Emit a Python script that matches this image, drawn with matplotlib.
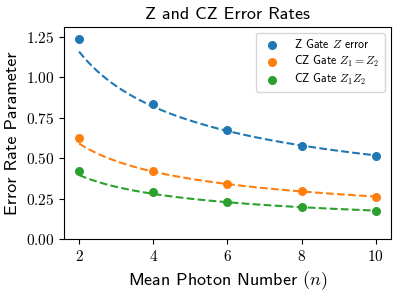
import numpy as np
import matplotlib
matplotlib.use("Agg")
import matplotlib.pyplot as plt
from matplotlib.ticker import FuncFormatter

plt.rcParams['font.family'] = ['cmss10', 'DejaVu Sans']
plt.rcParams['mathtext.fontset'] = 'cm'
plt.rcParams['axes.unicode_minus'] = False

n_vals = [2, 4, 6, 8, 10]
z_error = [1.238, 0.837, 0.674, 0.577, 0.514]
cz_equal = [0.625, 0.421, 0.343, 0.296, 0.263]
cz_product = [0.421, 0.290, 0.232, 0.197, 0.175]
# coefficients a of the dashed fit curves a / sqrt(n)
fit_coef = [1.640, 0.837, 0.562]
labels = [r"Z Gate $Z$ error", r"CZ Gate $Z_1=Z_2$", r"CZ Gate $Z_1Z_2$"]
colors = ["#1f77b4", "#ff7f0e", "#2ca02c"]

fig = plt.figure(figsize=(3.99, 2.93), dpi=100)
ax = fig.add_axes([0.161, 0.183, 0.818, 0.724])

n = np.array(n_vals, dtype=float)
nn = np.linspace(min(n_vals), max(n_vals), 200)
for ys, a, lab, c in zip([z_error, cz_equal, cz_product], fit_coef, labels, colors):
    ax.scatter(n, ys, color=c, s=30, label=lab, zorder=3)
    ax.plot(nn, a / np.sqrt(nn), '--', color=c, lw=1.5)

ax.set_xlim(1.6, 10.4)
ax.set_ylim(0, 1.31)
ax.set_xticks(n_vals)
ax.set_yticks([0, 0.25, 0.5, 0.75, 1.0, 1.25])
ax.xaxis.set_major_formatter(FuncFormatter(lambda v, p: r"$%d$" % v))
ax.yaxis.set_major_formatter(FuncFormatter(lambda v, p: r"$%.2f$" % v))
ax.tick_params(labelsize=11)
ax.set_title("Z and CZ Error Rates", fontsize=13)
ax.set_xlabel(r"Mean Photon Number $(n)$", fontsize=13)
ax.set_ylabel("Error Rate Parameter", fontsize=13)
ax.legend(loc="upper right", fontsize=8.5, labelspacing=0.25,
          handletextpad=0.9, borderaxespad=0.5)

fig.savefig("out.png", dpi=100)
